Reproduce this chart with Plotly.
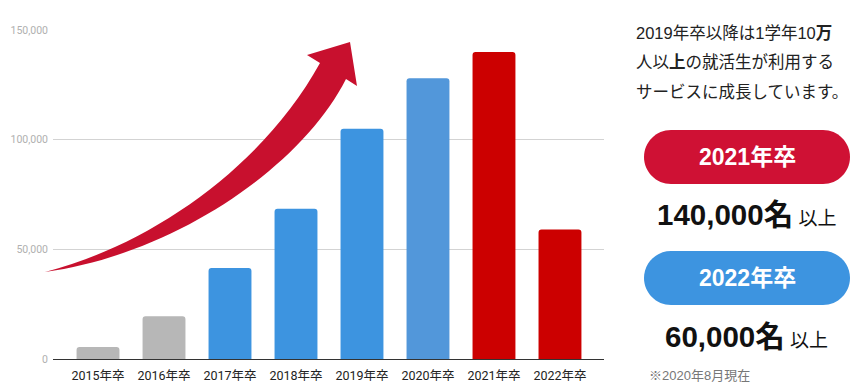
import plotly.graph_objects as go

categories = ["2015年卒", "2016年卒", "2017年卒", "2018年卒", "2019年卒", "2020年卒", "2021年卒", "2022年卒"]
values = [5500, 19500, 41500, 68500, 105000, 128000, 140000, 59000]
bar_colors = ["#b7b7b7", "#b7b7b7", "#3d94e0", "#3d94e0", "#3d94e0", "#5297da", "#cc0000", "#cc0000"]
y_ticks = [0, 50000, 100000, 150000]

W, H = 862, 388
L, R, T, B = 53, 258, 30, 29
PW, PH = W - L - R, H - T - B


def px(x):
    return (x - L) / PW


def py(y):
    return (H - B - y) / PH


def path_from(cmds):
    out = []
    for c in cmds:
        op = c[0]
        pts = c[1:]
        s = op
        s += " ".join(f"{px(pts[i]):.5f},{py(pts[i+1]):.5f}" for i in range(0, len(pts), 2))
        out.append(s)
    return " ".join(out) + " Z"


def pill(x0, y0, x1, y1):
    r = (y1 - y0) / 2
    k = 0.5523 * r
    return path_from([
        ("M", x0 + r, y0),
        ("L", x1 - r, y0),
        ("C", x1 - r + k, y0, x1, y0 + r - k, x1, y0 + r),
        ("C", x1, y0 + r + k, x1 - r + k, y1, x1 - r, y1),
        ("L", x0 + r, y1),
        ("C", x0 + r - k, y1, x0, y0 + r + k, x0, y0 + r),
        ("C", x0, y0 + r - k, x0 + r - k, y0, x0 + r, y0),
    ])


arrow = path_from([
    ("M", 45, 272),
    ("C", 150, 245, 262, 168, 320, 63),
    ("L", 307, 55),
    ("L", 350, 42),
    ("L", 357, 86),
    ("L", 346, 79),
    ("C", 300, 170, 170, 255, 45, 272),
])

fig = go.Figure()
fig.add_trace(go.Bar(
    x=list(range(len(categories))),
    y=values,
    marker=dict(color=bar_colors, line=dict(width=0)),
    hoverinfo="skip",
))

font_ui = "Roboto, 'Noto Sans CJK JP', sans-serif"
font_side = "'Liberation Sans', Arial, 'Noto Sans CJK JP', sans-serif"

shapes = [
    dict(type="path", xref="paper", yref="paper", path=arrow,
         fillcolor="#c8102e", line=dict(width=0), layer="above"),
    dict(type="path", xref="paper", yref="paper", path=pill(644, 130, 850, 184),
         fillcolor="#cf1134", line=dict(width=0)),
    dict(type="path", xref="paper", yref="paper", path=pill(644, 251, 850, 305),
         fillcolor="#3d94e0", line=dict(width=0)),
]


def ann(text, x, y, size, color="#222", xanchor="left", family=font_side):
    return dict(text=text, x=px(x), y=py(y), xref="paper", yref="paper",
                xanchor=xanchor, yanchor="middle", showarrow=False,
                font=dict(size=size, color=color, family=family))


annotations = [
    ann("2019年卒以降は1学年10<b>万</b>", 634, 33, 16.5),
    ann("人以<b>上</b>の就活生が利用する", 634, 62, 16.5),
    ann("サービスに成長しています。", 634, 92, 16.5),
    ann("<b>2021年卒</b>", 747, 157, 23, color="#ffffff", xanchor="center"),
    ann("<b>140,000名</b><span style='font-size:19px'> 以上</span>", 746, 214, 29.5, color="#111", xanchor="center"),
    ann("<b>2022年卒</b>", 747, 278, 23, color="#ffffff", xanchor="center"),
    ann("<b>60,000名</b><span style='font-size:19px'> 以上</span>", 746, 336, 29.5, color="#111", xanchor="center"),
    ann("※2020年8月現在", 647, 375, 13, color="#777777"),
]

fig.update_layout(
    width=W, height=H,
    margin=dict(l=L, r=R, t=T, b=B, pad=0, autoexpand=False),
    paper_bgcolor="white", plot_bgcolor="white",
    showlegend=False,
    bargap=0.35,
    barcornerradius=3,
    shapes=shapes,
    annotations=annotations,
    xaxis=dict(
        range=[-0.682, 7.667],
        tickmode="array", tickvals=list(range(len(categories))), ticktext=categories,
        showgrid=False, zeroline=False,
        showline=True, linecolor="#333333", linewidth=1,
        tickfont=dict(size=12.5, color="#222222", family=font_ui),
        ticks="", ticklabelstandoff=5, fixedrange=True, automargin=False,
    ),
    yaxis=dict(
        range=[0, 150000],
        tickmode="array", tickvals=y_ticks,
        tickformat=",",
        showgrid=True, gridcolor="#d3d3d3", gridwidth=1,
        zeroline=False, showline=False,
        tickfont=dict(size=10.5, color="#b0b0b0", family=font_ui),
        ticks="", ticklabelstandoff=4, fixedrange=True, automargin=False,
    ),
)

fig.write_html("out.html", config={"displayModeBar": False})
